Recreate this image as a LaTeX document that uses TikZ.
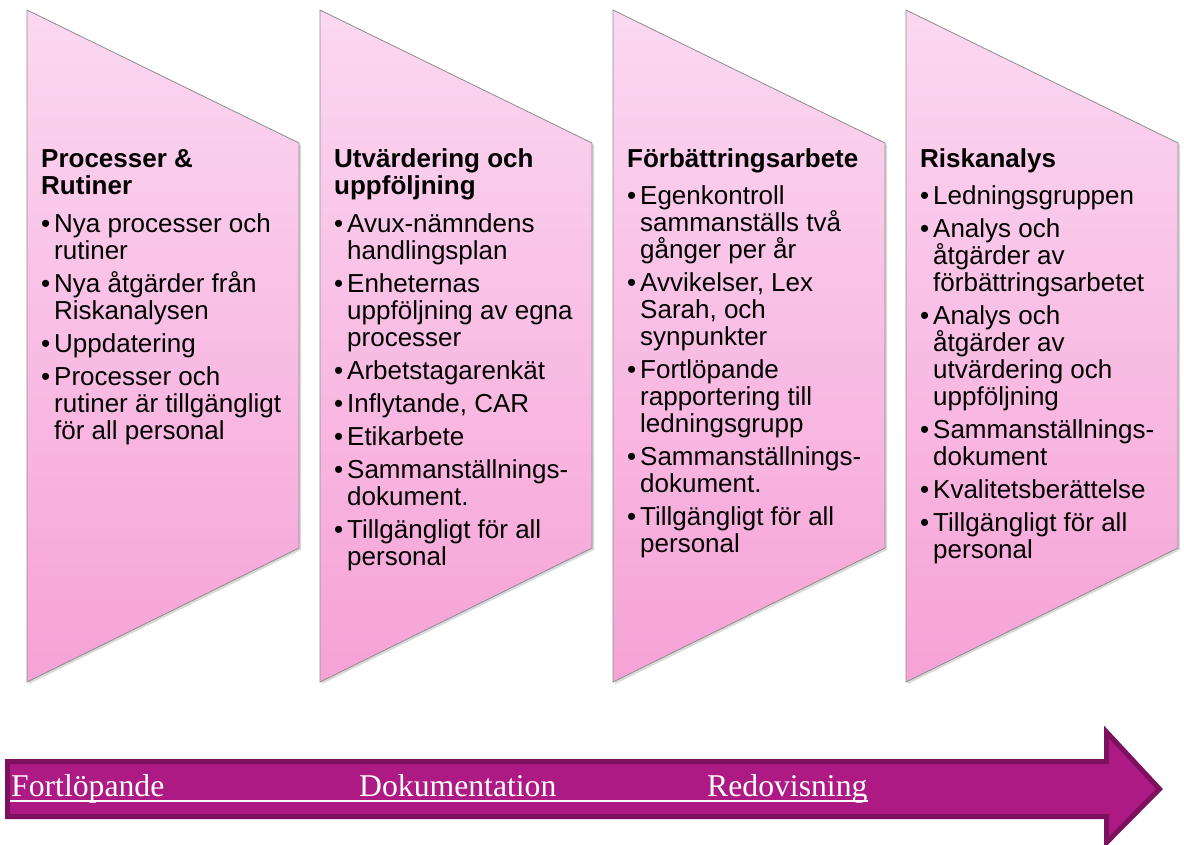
\documentclass[tikz,border=0pt]{standalone}
\usepackage{fontspec}
\setmainfont{Liberation Sans}
\newfontfamily\serifface{Liberation Serif}
\usetikzlibrary{positioning,calc,shadows}

\definecolor{pinktop}{RGB}{251,216,241}
\definecolor{pinkbot}{RGB}{246,162,214}
\definecolor{arrowfill}{RGB}{174,26,132}
\definecolor{arrowline}{RGB}{126,16,96}

\newcommand{\bul}{\makebox[13pt][l]{\textbullet}}
\newcommand{\ind}{\hspace*{13pt}}
\newcommand{\hd}[1]{{\fontsize{26}{27}\selectfont\bfseries #1}}

\begin{document}
\begin{tikzpicture}[x=1pt,y=-1pt,
    panel/.style={draw=black!45,line width=0.8pt,top color=pinktop,bottom color=pinkbot,
      drop shadow={opacity=0.3,shadow xshift=2pt,shadow yshift=-2pt}},
    paneltext/.style={anchor=north west,inner sep=0pt,align=left,font=\fontsize{26}{27}\selectfont},
    banner/.style={fill=arrowfill,draw=arrowline,line width=5pt,line join=miter},
    bannertext/.style={anchor=base west,inner sep=0pt,text=white,font=\serifface\fontsize{31.7}{34}\selectfont}]
  \useasboundingbox (0,0) rectangle (1184,845);

  % the four panels
  \foreach \px in {27,320,613,906}{
    \path[panel] (\px,10) -- (\px+272,143) -- (\px+272,548) -- (\px,682) -- cycle;
  }

  \node[paneltext] (proc) at (41,142) {\hd{\rule{0pt}{25pt}Processer \&}\\ \hd{Rutiner}\\[11pt]
    \bul Nya processer och\\ \ind rutiner\\[6pt]
    \bul Nya åtgärder från\\ \ind Riskanalysen\\[6pt]
    \bul Uppdatering\\[6pt]
    \bul Processer och\\ \ind rutiner är tillgängligt\\ \ind för all personal};

  \node[paneltext] (utv) at (334,142) {\hd{\rule{0pt}{25pt}Utvärdering och}\\ \hd{uppföljning}\\[11pt]
    \bul Avux-nämndens\\ \ind handlingsplan\\[6pt]
    \bul Enheternas\\ \ind uppföljning av egna\\ \ind processer\\[6pt]
    \bul Arbetstagarenkät\\[6pt]
    \bul Inflytande, CAR\\[6pt]
    \bul Etikarbete\\[6pt]
    \bul Sammanställnings-\\ \ind dokument.\\[6pt]
    \bul Tillgängligt för all\\ \ind personal};

  \node[paneltext] (forb) at (627,142) {\hd{\rule{0pt}{25pt}Förbättringsarbete}\\[10pt]
    \bul Egenkontroll\\ \ind sammanställs två\\ \ind gånger per år\\[6pt]
    \bul Avvikelser, Lex\\ \ind Sarah, och\\ \ind synpunkter\\[6pt]
    \bul Fortlöpande\\ \ind rapportering till\\ \ind ledningsgrupp\\[6pt]
    \bul Sammanställnings-\\ \ind dokument.\\[6pt]
    \bul Tillgängligt för all\\ \ind personal};

  \node[paneltext] (risk) at (920,142) {\hd{\rule{0pt}{25pt}Riskanalys}\\[10pt]
    \bul Ledningsgruppen\\[6pt]
    \bul Analys och\\ \ind åtgärder av\\ \ind förbättringsarbetet\\[6pt]
    \bul Analys och\\ \ind åtgärder av\\ \ind utvärdering och\\ \ind uppföljning\\[6pt]
    \bul Sammanställnings-\\ \ind dokument\\[6pt]
    \bul Kvalitetsberättelse\\[6pt]
    \bul Tillgängligt för all\\ \ind personal};

  % the arrow below
  \path[banner] (7.5,761.5) -- (1106.5,761.5) -- (1106.5,732) -- (1159.5,789) -- (1106.5,842.5)
    -- (1106.5,816.5) -- (7.5,816.5) -- cycle;

  \node[bannertext] (fort) at (11,796) {Fortlöpande};
  \node[bannertext] (doku) at (359,796) {Dokumentation};
  \node[bannertext] (redo) at (707,796) {Redovisning};
  \draw[white,line width=2pt] ($(fort.base west)+(-1,4.5)$) -- ($(redo.base east)+(0,4.5)$);
\end{tikzpicture}
\end{document}
